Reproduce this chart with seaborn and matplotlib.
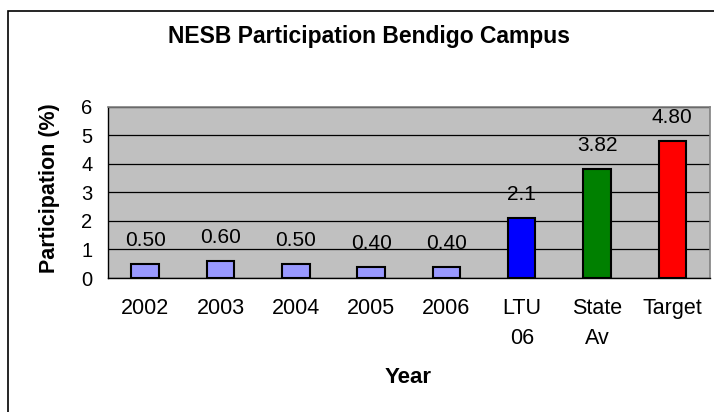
import matplotlib
matplotlib.use("Agg")
import matplotlib.pyplot as plt
import matplotlib.patches as patches
import seaborn as sns

# Data
categories = ["2002", "2003", "2004", "2005", "2006", "LTU\n06", "State\nAv", "Target"]
values = [0.50, 0.60, 0.50, 0.40, 0.40, 2.1, 3.82, 4.80]
value_labels = ["0.50", "0.60", "0.50", "0.40", "0.40", "2.1", "3.82", "4.80"]
bar_colors = ["#9999FF", "#9999FF", "#9999FF", "#9999FF", "#9999FF", "#0000FF", "#008000", "#FF0000"]

sns.set_style("white")
plt.rcParams["font.family"] = ["Liberation Sans", "DejaVu Sans"]
plt.rcParams["text.color"] = "black"
plt.rcParams["xtick.color"] = "black"
plt.rcParams["ytick.color"] = "black"

fig = plt.figure(figsize=(7.14, 4.12), dpi=100)
ax = fig.add_axes([0.1506, 0.3252, 0.8438, 0.4163])
ax.set_facecolor("#C0C0C0")

sns.barplot(x=categories, y=values, hue=categories, palette=bar_colors, legend=False,
            width=0.364, edgecolor="black", linewidth=1.5, saturation=1, ax=ax)

ax.set_xlim(-0.5, len(categories) - 0.5)
ax.set_ylim(0, 6)
ax.set_yticks(range(0, 7))
ax.yaxis.grid(True, color="black", linewidth=0.9)
ax.set_axisbelow(True)
ax.set_xlabel("")
ax.set_ylabel("")

# ticks between categories, like Excel
ax.set_xticks(range(len(categories)))
ax.set_xticklabels(categories)
ax.set_xticks([i - 0.5 for i in range(len(categories) + 1)], minor=True)
ax.tick_params(axis="x", which="major", length=0, pad=14.5, labelsize=15.5)
ax.tick_params(axis="x", which="minor", length=4.5, width=0.9, color="black", direction="out")
ax.tick_params(axis="y", length=5, width=0.9, color="black", direction="out", pad=6, labelsize=14.5)
for lbl in ax.get_xticklabels():
    lbl.set_linespacing(1.55)

for side in ["left", "bottom"]:
    ax.spines[side].set_color("black")
    ax.spines[side].set_linewidth(1)
for side in ["top", "right"]:
    ax.spines[side].set_color("#808080")
    ax.spines[side].set_linewidth(1.2)

# value labels above the bars
for i, (v, txt) in enumerate(zip(values, value_labels)):
    ax.annotate(txt, (i, v), xytext=(0, 13), textcoords="offset points",
                ha="center", va="baseline", fontsize=15)

fig.text(0.517, 0.8956, "NESB Participation Bendigo Campus", ha="center", va="baseline",
         fontsize=16.5, fontweight="bold")
fig.text(0.070, 0.5437, "Participation (%)", rotation=90, ha="center", va="center",
         fontsize=15.5, fontweight="bold")
fig.text(0.5714, 0.0704, "Year", ha="center", va="baseline", fontsize=16, fontweight="bold")

# chart border
fig.patches.append(patches.Rectangle((8 / 714, -0.1), 1.2, (412 - 11) / 412 + 0.1,
                                     transform=fig.transFigure, fill=False,
                                     edgecolor="black", linewidth=1.2))

fig.savefig("out.png", dpi=100)
